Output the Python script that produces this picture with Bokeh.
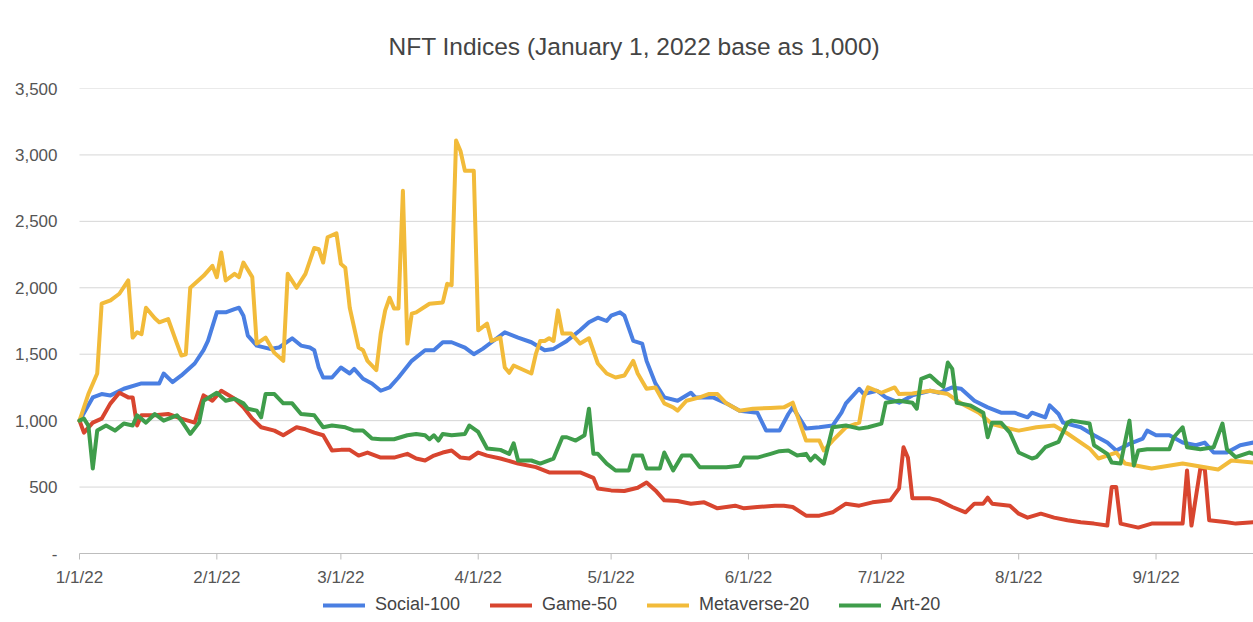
import pandas as pd
from bokeh.plotting import figure
from bokeh.models import (Range1d, FixedTicker, NumeralTickFormatter, Legend, LegendItem)
from bokeh.core.properties import value
from bokeh.embed import file_html
from bokeh.resources import INLINE

BASE = "2022-01-01"
END_DAYS = 265
TITLE = "NFT Indices (January 1, 2022 base as 1,000)"
series_names = ["Social-100", "Game-50", "Metaverse-20", "Art-20"]
y_ticks = [0, 500, 1000, 1500, 2000, 2500, 3000, 3500]
month_starts = ["2022-01-01", "2022-02-01", "2022-03-01", "2022-04-01", "2022-05-01",
                "2022-06-01", "2022-07-01", "2022-08-01", "2022-09-01"]
month_labels = ["1/1/22", "2/1/22", "3/1/22", "4/1/22", "5/1/22",
                "6/1/22", "7/1/22", "8/1/22", "9/1/22"]

# days since 2022-01-01 and index values
social_days = [0,3,5,7,10,14,18,19,21,23,26,28,29,31,33,35,36,37,38,40,43,45,48,50,52,53,54,55,57,59,
               61,62,64,66,68,70,72,75,78,80,82,84,87,89,91,93,96,99,102,105,107,110,113,115,117,119,120,122,123,125,
               127,128,130,132,135,138,139,143,146,149,153,155,158,160,161,164,167,170,172,173,176,177,180,182,185,188,192,194,197,199,
               202,205,208,211,214,215,218,219,221,222,226,229,232,234,237,240,241,243,246,249,252,254,256,259,262,265]
social_vals = [1000,1175,1200,1190,1240,1280,1280,1355,1290,1340,1430,1530,1600,1815,1815,1840,1850,1790,1640,1565,
               1540,1550,1620,1565,1550,1530,1400,1325,1325,1400,1355,1390,1315,1280,1225,1250,1325,1450,1530,1530,
               1590,1590,1550,1500,1540,1590,1665,1625,1590,1530,1540,1600,1680,1740,1775,1750,1790,1815,1790,1600,
               1580,1450,1280,1175,1150,1210,1175,1175,1130,1075,1060,925,925,1050,1100,940,950,963,1060,1130,
               1240,1200,1225,1175,1135,1190,1225,1210,1250,1240,1150,1100,1060,1060,1025,1060,1025,1115,1050,985,
               950,890,835,775,825,865,925,890,890,835,815,835,760,760,815,835]

game_days = [0,1,3,5,7,9,11,12,13,14,17,20,23,26,28,30,32,35,37,39,41,44,46,49,51,53,55,57,59,61,
             63,65,68,71,74,76,78,80,82,84,86,88,90,92,95,99,103,106,110,113,116,117,120,123,126,128,130,132,135,138,
             141,144,148,150,153,157,159,161,164,167,170,173,176,179,183,185,186,187,188,192,194,197,200,202,204,205,206,210,212,214,
             217,220,223,226,229,232,233,234,235,239,242,245,249,250,251,253,254,255,259,261,265]
game_vals = [1000,910,985,1015,1130,1210,1175,1175,963,1040,1040,1050,1015,985,1190,1150,1225,1165,1100,1015,
             950,925,890,950,935,910,890,775,780,780,737,760,722,722,750,715,700,737,760,775,
             722,715,760,737,715,677,650,610,610,610,570,490,475,470,495,535,475,400,395,375,
             385,340,360,340,350,360,360,350,285,285,310,375,360,385,400,490,800,720,415,415,
             400,350,310,375,375,420,375,360,300,270,300,270,250,235,225,210,500,500,225,195,
             225,225,225,625,210,640,640,250,235,225,235]

meta_days = [0,2,4,5,7,9,11,12,13,14,15,17,18,20,22,23,24,25,28,30,31,32,33,35,36,37,39,40,42,44,
             46,47,49,51,53,54,55,56,58,59,60,61,63,64,65,67,68,69,70,71,72,73,74,75,76,79,82,83,84,85,
             86,87,89,90,92,93,95,96,97,98,102,103,104,105,106,107,108,109,111,113,115,117,119,121,123,125,126,128,130,132,
             134,135,137,140,142,144,146,149,152,156,159,161,164,167,168,170,173,176,177,178,181,184,185,188,192,196,199,203,206,210,
             212,216,220,223,228,230,234,236,242,249,257,260,265]
meta_vals = [1000,1200,1355,1880,1905,1955,2055,1625,1665,1650,1850,1770,1740,1765,1580,1490,1500,2000,2090,2165,
             2080,2265,2055,2105,2080,2190,2080,1580,1625,1510,1450,2105,2000,2105,2300,2290,2190,2380,2410,2180,
             2150,1850,1550,1530,1450,1380,1655,1830,1925,1845,1845,2730,1580,1805,1815,1880,1890,2030,2020,3108,
             3030,2880,2880,1680,1730,1600,1625,1400,1360,1415,1355,1500,1600,1600,1620,1600,1830,1655,1655,1580,
             1620,1430,1355,1325,1340,1450,1355,1240,1250,1130,1100,1075,1150,1175,1200,1200,1130,1075,1090,1095,
             1100,1135,850,850,775,850,950,985,1175,1250,1210,1250,1200,1205,1225,1200,1130,1060,975,940,
             925,950,963,903,790,715,760,677,640,677,632,700,685]

art_days = [0,1,2,3,4,6,8,10,12,13,15,17,19,22,23,25,27,28,30,31,33,35,37,38,40,41,42,44,46,48,
            50,53,55,57,60,62,64,66,68,71,74,76,78,79,80,81,82,84,87,88,90,92,95,97,98,99,102,104,107,109,
            110,112,114,115,116,117,119,121,124,125,127,128,131,132,134,136,138,140,143,146,149,150,153,156,158,160,162,164,165,166,
            168,170,173,176,178,181,182,185,188,189,190,192,194,195,196,197,198,201,204,205,206,208,210,212,215,216,218,221,223,224,
            228,229,232,233,235,237,238,239,241,244,246,247,249,250,253,256,258,259,261,264,265]
art_vals = [1000,1015,963,640,925,963,925,978,963,1040,985,1050,1000,1040,1000,900,985,1150,1190,1210,
            1150,1165,1130,1090,1075,1025,1200,1200,1130,1130,1050,1040,950,963,950,925,925,865,860,860,
            890,900,890,860,890,850,900,890,900,963,915,790,780,750,830,700,700,677,715,875,
            875,850,890,1090,750,750,677,625,625,737,737,640,640,760,625,737,737,650,650,650,
            660,722,722,750,770,775,737,750,700,737,677,950,963,940,950,978,1135,1150,1135,1090,
            1315,1340,1280,1255,1437,1390,1135,1115,1060,875,985,985,910,760,715,725,800,840,985,1000,
            978,815,750,685,677,1000,662,775,785,785,785,875,950,800,785,800,978,785,725,760,750]

colors = ["#4a7fe2", "#d8452f", "#f2bb3a", "#3f9d4b"]
FONT = "Liberation Sans"

# layout (pixels)
W, H = 1253, 622
FRAME_LEFT = 50          # drawing area starts here (room for the first date label)
PLOT_LEFT = 79           # where the dated data region begins
FRAME_TOP, ZERO_Y = 88, 553
Y_MAX = 3500
units_per_px = Y_MAX / (ZERO_Y - FRAME_TOP)
y_start = -(H - ZERO_Y) * units_per_px
days_per_px = END_DAYS / (W - PLOT_LEFT)

base = pd.Timestamp(BASE)
end = base + pd.Timedelta(days=END_DAYS)
x_start = base - pd.Timedelta(days=(PLOT_LEFT - FRAME_LEFT) * days_per_px)

def to_dates(days):
    return base + pd.to_timedelta(days, unit="D")

p = figure(width=W, height=H, output_backend="svg", toolbar_location=None,
           x_axis_location=None,
           x_range=Range1d(x_start, end), y_range=Range1d(y_start, Y_MAX),
           min_border_left=FRAME_LEFT, min_border_right=0, min_border_top=FRAME_TOP,
           min_border_bottom=0)
p.outline_line_color = None
p.background_fill_color = "white"
p.grid.grid_line_color = None

p.title.text = TITLE
p.title.text_font = FONT
p.title.text_font_size = "24.5px"
p.title.text_font_style = "normal"
p.title.text_color = "#444444"
p.title.align = "left"
p.title.offset = 388 - FRAME_LEFT
p.title.standoff = 57

p.yaxis.ticker = FixedTicker(ticks=y_ticks)
p.yaxis.formatter = NumeralTickFormatter(format="0,0")
p.yaxis.major_label_overrides = {0: "-"}
p.yaxis.axis_line_color = None
p.yaxis.major_tick_line_color = None
p.yaxis.major_tick_out = 0
p.yaxis.major_tick_in = 0
p.yaxis.minor_tick_line_color = None
p.yaxis.major_label_text_font = FONT
p.yaxis.major_label_text_font_size = "17px"
p.yaxis.major_label_text_color = "#555555"
p.yaxis.major_label_standoff = -(ZERO_Y - ZERO_Y) - (57 - FRAME_LEFT)

# horizontal grid lines starting at the first date
grid_y = [t for t in y_ticks if t > 0]
p.segment(x0=[base] * len(grid_y), y0=grid_y, x1=[end] * len(grid_y), y1=grid_y,
          line_color="#d6d6d6", line_width=1)

# date axis drawn at the zero line
month_x = pd.to_datetime(month_starts)
p.segment(x0=[base], y0=[0], x1=[end], y1=[0], line_color="#bdbdbd", line_width=1)
p.segment(x0=month_x, y0=0, x1=month_x, y1=-6 * units_per_px, line_color="#bdbdbd", line_width=1)
p.text(x=month_x, y=[-24 * units_per_px] * len(month_x), text=month_labels,
       text_font=value(FONT), text_font_size=value("17px"), text_color="#555555",
       text_align="center", text_baseline="middle")

all_days = [social_days, game_days, meta_days, art_days]
all_vals = [social_vals, game_vals, meta_vals, art_vals]
items = []
for name, d, v, c in zip(series_names, all_days, all_vals, colors):
    r = p.line(to_dates(d), v, line_color=c, line_width=4, line_join="round", line_cap="round")
    items.append(LegendItem(label=name, renderers=[r]))

legend = Legend(items=items, orientation="horizontal", location=(323 - FRAME_LEFT, 7),
                glyph_width=42, glyph_height=20, label_standoff=10, spacing=30,
                padding=0, margin=0, border_line_color=None, background_fill_alpha=0,
                label_text_font=FONT, label_text_font_size="18px", label_text_color="#444444")
p.add_layout(legend)

open("out.html", "w").write(file_html(p, INLINE))
